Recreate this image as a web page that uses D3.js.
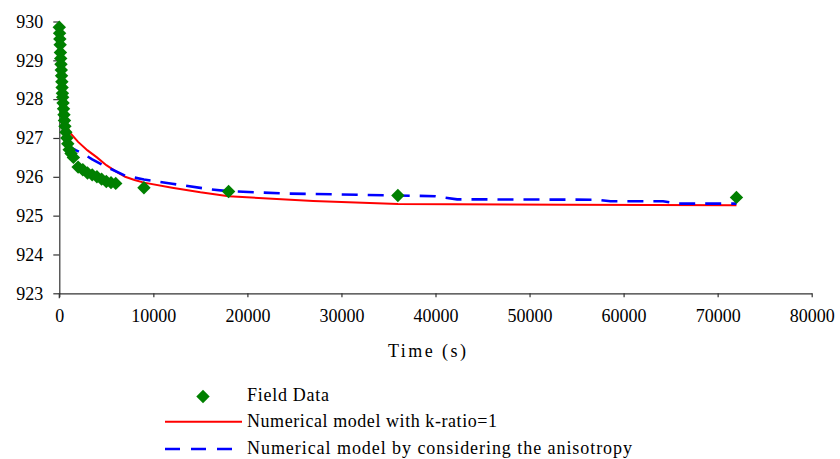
<!DOCTYPE html>
<html>
<head>
<meta charset="utf-8">
<script src="https://cdn.jsdelivr.net/npm/d3@7"></script>
<style>
  body { margin: 0; background: #fff; }
  svg text { font-family: "Times New Roman", "Liberation Serif", "DejaVu Serif", serif; fill: #000; }
</style>
</head>
<body>
<script>
// field data (time s, head)
let fieldTime = [0, 30, 60, 90, 120, 150, 180, 210, 240, 270, 300, 330, 360, 400, 450, 500, 550, 600, 700, 800,
                 900, 1050, 1250, 1500, 2000, 2500, 3000, 3500, 4000, 4500, 5000, 5500, 6000, 9000, 18000, 36000, 72000];
let fieldHead = [929.85, 929.7, 929.55, 929.4, 929.2, 929.05, 928.9, 928.75, 928.6, 928.45, 928.3, 928.15, 928.05, 927.9, 927.75, 927.6, 927.45, 927.3, 927.15, 927.0,
                 926.85, 926.7, 926.6, 926.5, 926.25, 926.18, 926.1, 926.05, 926.0, 925.94, 925.88, 925.85, 925.83, 925.72, 925.62, 925.52, 925.47];

// numerical model, k-ratio = 1
let modelTime = [900, 1200, 2000, 3000, 4000, 5000, 6000, 7000, 8000, 9000, 12000, 15000, 18000, 27000, 36000, 54000, 72000];
let modelHead = [927.25, 927.12, 926.9, 926.68, 926.5, 926.3, 926.14, 926.0, 925.92, 925.85, 925.72, 925.6, 925.5, 925.38, 925.3, 925.28, 925.27];

// numerical model considering anisotropy
let anisoTime = [700, 1200, 1800, 2500, 3500, 4500, 5500, 7000, 9000, 12000, 16000, 18000, 24000, 36000, 40000, 42300, 57200, 58600, 64200, 65700, 72000];
let anisoHead = [926.88, 926.76, 926.68, 926.6, 926.45, 926.32, 926.2, 926.03, 925.93, 925.82, 925.68, 925.63, 925.57, 925.52, 925.5, 925.42, 925.41, 925.37, 925.37, 925.31, 925.31];

let xTicks = [0, 10000, 20000, 30000, 40000, 50000, 60000, 70000, 80000];
let yTicks = [923, 924, 925, 926, 927, 928, 929, 930];

let legendLabels = ["Field Data", "Numerical model with k-ratio=1", "Numerical model by considering the anisotropy"];

let serif = "'Times New Roman', 'Liberation Serif', 'DejaVu Serif', serif";
let w = 840, h = 459;

let svg = d3.select("body").append("svg")
  .attr("width", w)
  .attr("height", h)
  .style("font-family", serif);

let x = d3.scaleLinear().domain([0, 80000]).range([59.3, 811.7]);
let y = d3.scaleLinear().domain([923, 930]).range([293.3, 21.5]);

// axes
let xAxis = d3.axisBottom(x).tickValues(xTicks).tickSize(4).tickSizeOuter(0).tickPadding(12).tickFormat(d3.format("d"));
let yAxis = d3.axisLeft(y).tickValues(yTicks).tickSize(6).tickSizeOuter(0).tickPadding(10).tickFormat(d3.format("d"));

let gx = svg.append("g").attr("transform", "translate(0," + y(923) + ")").call(xAxis);
let gy = svg.append("g").attr("transform", "translate(" + x(0) + ",0)").call(yAxis);

[gx, gy].forEach(g => {
  g.attr("font-family", serif).attr("font-size", 18);
  g.select(".domain").attr("stroke", "#333").attr("stroke-width", 1.2);
  g.selectAll(".tick line").attr("stroke", "#333").attr("stroke-width", 1.2);
  g.selectAll(".tick text").attr("fill", "#111");
});
// y axis runs a little below the x axis
svg.append("line")
  .attr("x1", x(0)).attr("x2", x(0))
  .attr("y1", y(923)).attr("y2", y(923) + 5)
  .attr("stroke", "#333").attr("stroke-width", 1.2);

svg.append("text")
  .attr("x", 427).attr("y", 357)
  .attr("text-anchor", "middle")
  .attr("font-size", 18)
  .attr("textLength", 78)
  .text("Time (s)");

// lines
let line = d3.line().x(d => x(d[0])).y(d => y(d[1]));

svg.append("path")
  .datum(modelTime.map((t, i) => [t, modelHead[i]]))
  .attr("d", line)
  .attr("fill", "none")
  .attr("stroke", "#ff0000")
  .attr("stroke-width", 2);

svg.append("path")
  .datum(anisoTime.map((t, i) => [t, anisoHead[i]]))
  .attr("d", line)
  .attr("fill", "none")
  .attr("stroke", "#0000ff")
  .attr("stroke-width", 2.6)
  .attr("stroke-dasharray", "16,10");

// field data diamonds
let diamond = d3.symbol().type(d3.symbolSquare).size(90);

svg.selectAll(".pt")
  .data(fieldTime.map((t, i) => [t, fieldHead[i]]))
  .enter()
  .append("path")
  .attr("class", "pt")
  .attr("d", diamond)
  .attr("transform", d => "translate(" + x(d[0]) + "," + y(d[1]) + ") rotate(45)")
  .attr("fill", "#008000");

// legend
let lg = svg.append("g");
lg.append("path")
  .attr("d", diamond)
  .attr("transform", "translate(203,396.5) rotate(45)")
  .attr("fill", "#008000");
lg.append("line")
  .attr("x1", 165).attr("x2", 242).attr("y1", 421.7).attr("y2", 421.7)
  .attr("stroke", "#ff0000").attr("stroke-width", 2);
lg.append("line")
  .attr("x1", 165).attr("x2", 242).attr("y1", 449).attr("y2", 449)
  .attr("stroke", "#0000ff").attr("stroke-width", 2.6)
  .attr("stroke-dasharray", "15,11");

let legendY = [401, 427, 454];
let legendW = [82, 250, 385];
legendLabels.forEach((s, i) => {
  lg.append("text")
    .attr("x", 247).attr("y", legendY[i])
    .attr("font-size", 18)
    .attr("textLength", legendW[i])
    .attr("lengthAdjust", "spacing")
    .text(s);
});
</script>
</body>
</html>
